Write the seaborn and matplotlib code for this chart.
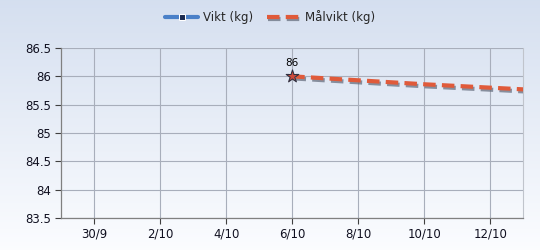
import numpy as np
import pandas as pd
import matplotlib
matplotlib.use("Agg")
import matplotlib.pyplot as plt
import matplotlib.dates as mdates
import matplotlib.patheffects as pe
import seaborn as sns

# ---- data ----
weight_dates = ["2023-10-06"]
weight_values = [86.0]
target_dates = ["2023-10-06", "2023-10-07", "2023-10-08", "2023-10-09",
                "2023-10-10", "2023-10-11", "2023-10-12", "2023-10-13"]
target_values = [86.0, 85.965, 85.93, 85.895, 85.86, 85.83, 85.80, 85.77]
tick_dates = ["2023-09-30", "2023-10-02", "2023-10-04", "2023-10-06",
              "2023-10-08", "2023-10-10", "2023-10-12"]
tick_labels = ["30/9", "2/10", "4/10", "6/10", "8/10", "10/10", "12/10"]
y_ticks = [83.5, 84, 84.5, 85, 85.5, 86, 86.5]
y_labels = ["83.5", "84", "84.5", "85", "85.5", "86", "86.5"]
series_names = ["Vikt (kg)", "Målvikt (kg)"]

sns.set_theme(style="white")
plt.rcParams['font.family'] = ['DejaVu Sans']

wdf = pd.DataFrame({"date": pd.to_datetime(weight_dates), "value": weight_values})
tdf = pd.DataFrame({"date": pd.to_datetime(target_dates), "value": target_values})

fig = plt.figure(figsize=(5.4, 2.5), dpi=100)

# gradient background
bg = fig.add_axes([0, 0, 1, 1], zorder=-10)
grad = np.linspace(0, 1, 256).reshape(-1, 1)
top = np.array([0.835, 0.875, 0.94])
bot = np.array([0.985, 0.99, 1.0])
img = top[None, None, :] * (1 - grad[:, :, None]) + bot[None, None, :] * grad[:, :, None]
bg.imshow(img, aspect="auto", extent=[0, 1, 0, 1])
bg.axis("off")

ax = fig.add_axes([0.113, 0.128, 0.856, 0.68])
ax.set_facecolor("none")

shadow = [pe.SimpleLineShadow(offset=(1, -1.5), shadow_color="#606878", alpha=0.7), pe.Normal()]

sns.lineplot(data=tdf, x="date", y="value", ax=ax, color="#e05a3a", lw=3.0,
             linestyle=(0, (3, 1.5)), label=series_names[1], path_effects=shadow, zorder=3)
sns.lineplot(data=wdf, x="date", y="value", ax=ax, color="#4a80c8", lw=3.0,
             marker="s", markersize=5, markerfacecolor="#1a2a50", label=series_names[0],
             zorder=4)
ax.scatter(wdf["date"], wdf["value"], marker="*", s=90, color="#d04a3a",
           edgecolor="#303040", linewidth=0.8, zorder=5)
for d, v in zip(wdf["date"], wdf["value"]):
    ax.annotate(f"{v:g}", (d, v), xytext=(0, 6), textcoords="offset points",
                ha="center", va="bottom", fontsize=7.5, color="black")

ax.set_xlim(pd.Timestamp("2023-09-29"), pd.Timestamp("2023-10-13"))
ax.set_ylim(83.5, 86.5)
ax.set_xticks(pd.to_datetime(tick_dates))
ax.set_xticklabels(tick_labels)
ax.set_yticks(y_ticks)
ax.set_yticklabels(y_labels)
ax.set_xlabel("")
ax.set_ylabel("")
ax.grid(True, color="#a8aebb", lw=0.8)
ax.tick_params(axis="both", length=4, width=0.8, color="#404040", direction="out",
               labelsize=8.5, labelcolor="#101020", pad=3)
ax.tick_params(axis="both", bottom=True, left=True)
for s in ["left", "bottom"]:
    ax.spines[s].set_color("#808080")
    ax.spines[s].set_linewidth(0.9)
ax.spines["top"].set_visible(False)
ax.spines["right"].set_color("#c0c4cc")
ax.spines["right"].set_linewidth(0.8)

ax.legend_.remove()
h, l = ax.get_legend_handles_labels()
order = [l.index(series_names[0]), l.index(series_names[1])]
fig.legend([h[i] for i in order], [l[i] for i in order], loc="center",
           bbox_to_anchor=(0.5, 0.93), ncol=2, frameon=False, fontsize=8.5,
           handlelength=2.8, columnspacing=1.2, handletextpad=0.4)

fig.savefig("out.png", dpi=100)
